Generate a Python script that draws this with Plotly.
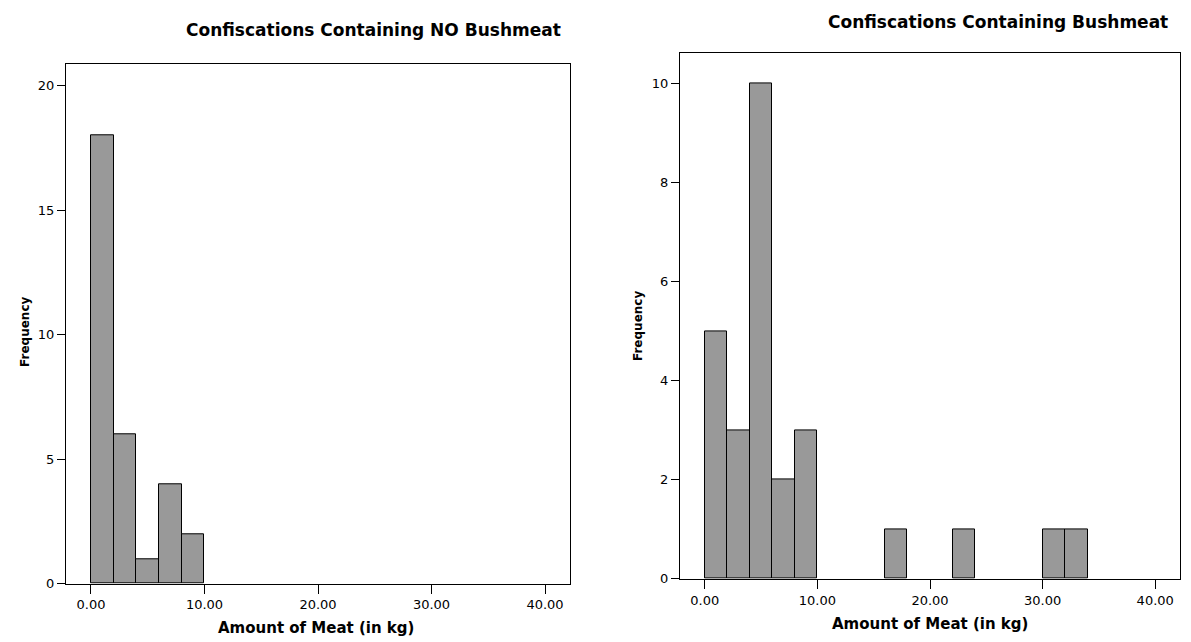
import plotly.graph_objects as go

# Data (bin width 2 kg)
bin_width = 2
no_bush_bin_starts = [0, 2, 4, 6, 8]
no_bush_counts = [18, 6, 1, 4, 2]
bush_bin_starts = [0, 2, 4, 6, 8, 16, 22, 30, 32]
bush_counts = [5, 3, 10, 2, 3, 1, 1, 1, 1]

x_tickvals = [0, 10, 20, 30, 40]
x_ticktext = ["0.00", "10.00", "20.00", "30.00", "40.00"]
left_yticks = [0, 5, 10, 15, 20]
right_yticks = [0, 2, 4, 6, 8, 10]

titles = ["Confiscations Containing NO Bushmeat", "Confiscations Containing Bushmeat"]
x_title = "Amount of Meat (in kg)"
y_title = "Frequency"

FONT = "DejaVu Sans, Liberation Sans, Arial, sans-serif"
BAR_COLOR = "#999999"

fig = go.Figure()
fig.add_trace(go.Bar(
    x=[s + bin_width / 2 for s in no_bush_bin_starts], y=no_bush_counts, width=bin_width,
    marker=dict(color=BAR_COLOR, line=dict(color="black", width=1)),
    xaxis="x", yaxis="y", showlegend=False, hoverinfo="skip"))
fig.add_trace(go.Bar(
    x=[s + bin_width / 2 for s in bush_bin_starts], y=bush_counts, width=bin_width,
    marker=dict(color=BAR_COLOR, line=dict(color="black", width=1)),
    xaxis="x2", yaxis="y2", showlegend=False, hoverinfo="skip"))

W, H = 1191, 642
def px(x):
    return x / W
def py(y):
    return 1 - y / H

axis_common = dict(showline=True, mirror=True, linecolor="black", linewidth=1.3,
                   ticks="outside", tickcolor="black", tickwidth=1.3,
                   showgrid=False, zeroline=False,
                   tickfont=dict(family=FONT, size=13, color="black"))

fig.update_layout(
    width=W, height=H, margin=dict(l=0, r=0, t=0, b=0),
    paper_bgcolor="white", plot_bgcolor="white", bargap=0,
    font=dict(family=FONT, color="black"),
    xaxis=dict(domain=[px(58), px(562)], range=[-2.2, 42.2], anchor="y",
               tickvals=x_tickvals, ticktext=x_ticktext, ticklen=9, **axis_common),
    yaxis=dict(domain=[py(583), py(57)], range=[0, 20.85], anchor="x",
               tickvals=left_yticks, ticklen=8, **axis_common),
    xaxis2=dict(domain=[px(672), px(1172)], range=[-2.2, 42.2], anchor="y2",
                tickvals=x_tickvals, ticktext=x_ticktext, ticklen=9, **axis_common),
    yaxis2=dict(domain=[py(578), py(46)], range=[0, 10.6], anchor="x2",
                tickvals=right_yticks, ticklen=8, **axis_common),
)

def note(text, x, y, size, angle=0):
    return dict(text="<b>" + text + "</b>", x=px(x), y=py(y), xref="paper", yref="paper",
                xanchor="center", yanchor="middle", showarrow=False, textangle=angle,
                font=dict(family=FONT, size=size, color="black"))

fig.update_layout(annotations=[
    note(titles[0], 365, 22, 17),
    note(titles[1], 990, 14, 17),
    note(x_title, 308, 628, 15),
    note(x_title, 922, 624, 15),
    note(y_title, 17, 328, 12, -90),
    note(y_title, 630, 322, 12, -90),
])

fig.write_html("out.html")
